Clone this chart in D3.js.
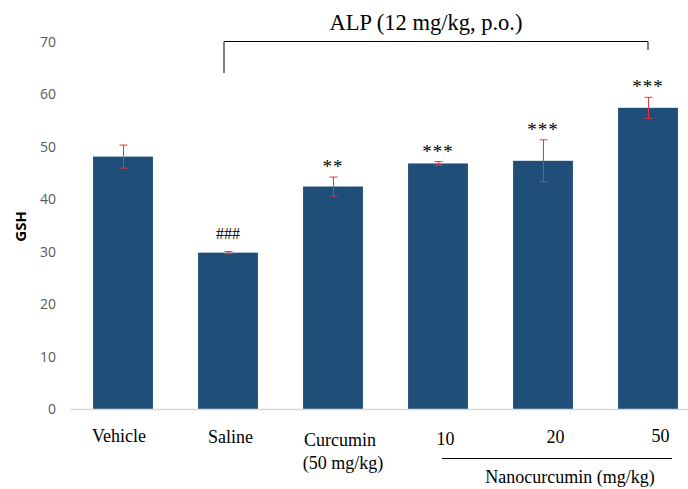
<!DOCTYPE html>
<html>
<head>
<meta charset="utf-8">
<script src="https://cdn.jsdelivr.net/npm/d3@7"></script>
<style>
  body { margin: 0; background: #fff; }
  svg { display: block; }
  .tick text { fill: #595959; font-family: "Open Sans", "Liberation Sans", sans-serif; font-size: 14px; }
  .serif { font-family: "Liberation Serif", "Times New Roman", serif; fill: #000; }
</style>
</head>
<body>
<svg width="688" height="489"></svg>
<script>
// group labels and GSH values (mean, error)
var groups = ["Vehicle", "Saline", "Curcumin", "10", "20", "50"];
var means = [48.1, 29.8, 42.4, 46.8, 47.3, 57.4];
var errors = [2.2, 0.2, 1.8, 0.35, 4.0, 2.0];
var marks = ["", "###", "**", "***", "***", "***"];
var yTicks = [0, 10, 20, 30, 40, 50, 60, 70];

var width = 688, height = 489;
var svg = d3.select("svg");

var x = d3.scaleBand()
    .domain(groups)
    .range([70.5, 700.5])
    .paddingInner(0.43)
    .paddingOuter(0.215);

var y = d3.scaleLinear()
    .domain([0, 70])
    .range([409, 41.7]);

var data = groups.map(function (g, i) {
    return { group: g, mean: means[i], err: errors[i], mark: marks[i] };
});

// y axis (no line, labels only)
var yAxis = svg.append("g")
    .attr("transform", "translate(56,0)")
    .call(d3.axisLeft(y).tickValues(yTicks).tickSize(0).tickPadding(0));
yAxis.select(".domain").remove();

svg.append("text")
    .attr("transform", "translate(26," + y(34.8) + ") rotate(-90)")
    .attr("text-anchor", "middle")
    .attr("font-family", "'Open Sans', 'Liberation Sans', sans-serif")
    .attr("font-weight", "bold")
    .attr("font-size", 15)
    .text("GSH");

// bars
svg.append("g")
    .selectAll("rect")
    .data(data)
    .enter().append("rect")
    .attr("x", function (d) { return x(d.group); })
    .attr("y", function (d) { return y(d.mean); })
    .attr("width", x.bandwidth())
    .attr("height", function (d) { return y(0) - y(d.mean); })
    .attr("fill", "#1f4e79");

// baseline
svg.append("line")
    .attr("x1", 70).attr("x2", width)
    .attr("y1", y(0) + 0.5).attr("y2", y(0) + 0.5)
    .attr("stroke", "#d9d9d9")
    .attr("stroke-width", 1.5);

// error bars
var eb = svg.append("g")
    .selectAll("g")
    .data(data)
    .enter().append("g")
    .attr("stroke", "#e8343c")
    .attr("stroke-width", 1);
var cx = function (d) { return Math.round(x(d.group) + x.bandwidth() / 2) + 0.5; };
eb.append("line")
    .attr("x1", cx).attr("x2", cx)
    .attr("y1", function (d) { return y(d.mean + d.err); })
    .attr("y2", function (d) { return y(d.mean - d.err); });
eb.append("line")
    .attr("x1", function (d) { return cx(d) - 4; }).attr("x2", function (d) { return cx(d) + 4; })
    .attr("y1", function (d) { return y(d.mean + d.err); })
    .attr("y2", function (d) { return y(d.mean + d.err); });
eb.append("line")
    .attr("x1", function (d) { return cx(d) - 4; }).attr("x2", function (d) { return cx(d) + 4; })
    .attr("y1", function (d) { return y(d.mean - d.err); })
    .attr("y2", function (d) { return y(d.mean - d.err); });

// significance marks
svg.append("g")
    .selectAll("text")
    .data(data.filter(function (d) { return d.mark; }))
    .enter().append("text")
    .attr("class", "serif")
    .attr("x", function (d) { return x(d.group) + x.bandwidth() / 2; })
    .attr("y", function (d) {
        return d.mark == "###" ? y(d.mean + d.err) - 13 : y(d.mean + d.err) - 4;
    })
    .attr("text-anchor", "middle")
    .attr("font-size", function (d) { return d.mark == "###" ? 16 : 19; })
    .attr("letter-spacing", function (d) { return d.mark == "###" ? 0 : 1; })
    .text(function (d) { return d.mark; });

// ALP bracket
var bx1 = x("Saline") + x.bandwidth() / 2 - 4, bx2 = x("50") + x.bandwidth() / 2;
svg.append("path")
    .attr("d", "M" + bx1 + ",73V41.5H" + bx2 + "V50")
    .attr("fill", "none")
    .attr("stroke", "#000")
    .attr("stroke-width", 1);
svg.append("text")
    .attr("class", "serif")
    .attr("x", 426)
    .attr("y", 30)
    .attr("text-anchor", "middle")
    .attr("font-size", 22.5)
    .text("ALP (12 mg/kg, p.o.)");

// x labels (small offsets copy the hand placement in the original)
var labelDx = [-4, 2.5, 7, 7.5, 12.5, 12.5];
var labelY = [442, 443, 446, 445, 443, 442];
svg.append("g")
    .selectAll("text")
    .data(groups)
    .enter().append("text")
    .attr("class", "serif")
    .attr("x", function (d, i) { return x(d) + x.bandwidth() / 2 + labelDx[i]; })
    .attr("y", function (d, i) { return labelY[i]; })
    .attr("text-anchor", "middle")
    .attr("font-size", 18)
    .text(function (d) { return d; });

svg.append("text")
    .attr("class", "serif")
    .attr("x", x("Curcumin") + x.bandwidth() / 2 + 10)
    .attr("y", 469)
    .attr("text-anchor", "middle")
    .attr("font-size", 18)
    .text("(50 mg/kg)");

svg.append("line")
    .attr("x1", 442).attr("x2", 672)
    .attr("y1", 458.5).attr("y2", 458.5)
    .attr("stroke", "#000")
    .attr("stroke-width", 1);

svg.append("text")
    .attr("class", "serif")
    .attr("x", 570)
    .attr("y", 483)
    .attr("text-anchor", "middle")
    .attr("font-size", 18)
    .text("Nanocurcumin (mg/kg)");
</script>
</body>
</html>
